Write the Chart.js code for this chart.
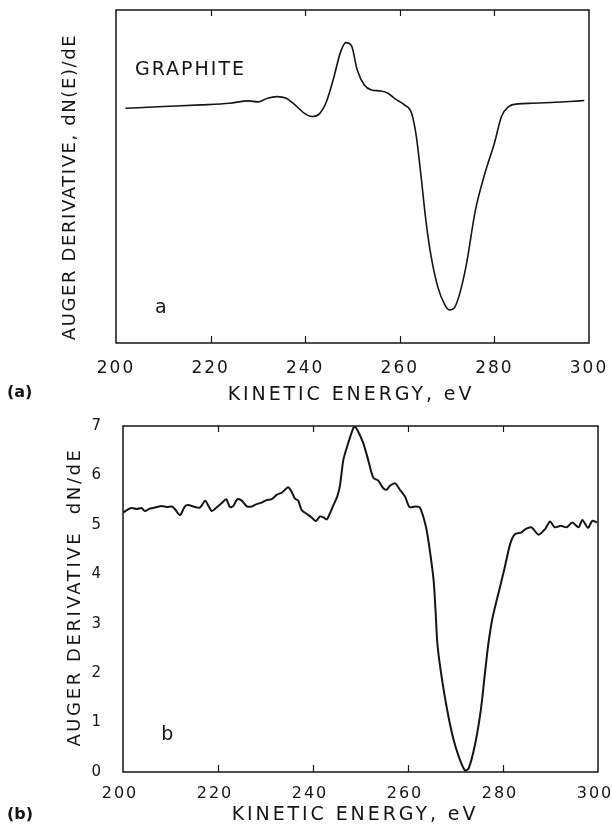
<!DOCTYPE html>
<html><head><meta charset="utf-8">
<script src="https://cdn.jsdelivr.net/npm/chart.js@4"></script>
<style>
html,body{margin:0;padding:0;background:#fff;}
#wrapA{position:absolute;left:0;top:0;width:612px;height:415px;}
#wrapB{position:absolute;left:0;top:415px;width:612px;height:416px;}
canvas{display:block;}
</style></head><body>
<div id="wrapA"><canvas id="chartA" width="612" height="415"></canvas></div>
<div id="wrapB"><canvas id="chartB" width="612" height="416"></canvas></div>
<script>
// ---- data ----
const xTickValues = [200, 220, 240, 260, 280, 300];
const bottomYTicks = [0, 1, 2, 3, 4, 5, 6, 7];

// (a) graphite, arbitrary units
const topEnergy = [202, 210, 218, 224, 228, 230, 232, 234, 236, 238, 240, 241.5, 243, 244.5, 246, 247.5, 248.6, 249.8, 251, 252.5, 254, 256, 257.5, 259, 261, 262.5, 263.5, 264.5, 265.5, 266.5, 268, 269.5, 270.5, 271.5, 272.5, 274, 276, 278, 280, 281.5, 283, 285, 288, 292, 296, 299];
const topSignal = [7.05, 7.10, 7.15, 7.20, 7.27, 7.24, 7.35, 7.40, 7.35, 7.13, 6.88, 6.80, 6.88, 7.25, 7.95, 8.75, 9.02, 8.92, 8.20, 7.75, 7.60, 7.57, 7.50, 7.33, 7.15, 6.90, 6.20, 5.00, 3.70, 2.70, 1.70, 1.15, 0.99, 1.05, 1.40, 2.30, 4.00, 5.10, 6.00, 6.80, 7.10, 7.18, 7.20, 7.22, 7.25, 7.28];

// (b) dN/dE
const bottomEnergy = [199.9, 200.8, 201.8, 202.9, 203.9, 204.6, 205.7, 207.1, 208.1, 209.2, 210.3, 210.9, 212.0, 213.0, 213.7, 215.2, 216.2, 217.3, 217.9, 218.7, 219.7, 220.8, 221.7, 222.5, 223.2, 224.1, 225.0, 226.0, 227.1, 228.1, 229.2, 230.2, 231.3, 232.4, 233.4, 234.1, 234.8, 235.5, 236.2, 236.9, 237.6, 238.7, 239.7, 240.6, 241.5, 242.2, 242.9, 243.6, 244.3, 245.1, 245.7, 246.4, 247.4, 248.5, 248.8, 249.5, 250.6, 251.6, 252.7, 253.7, 254.8, 255.5, 256.2, 257.3, 258.3, 259.4, 260.3, 261.5, 262.5, 263.8, 264.6, 265.4, 265.8, 266.2, 267.1, 268.3, 269.5, 270.8, 272.0, 272.8, 274.1, 275.3, 276.1, 276.9, 277.8, 279.0, 280.2, 281.5, 282.5, 283.9, 284.8, 286.0, 287.5, 288.9, 289.9, 290.9, 292.2, 293.4, 294.6, 295.9, 296.7, 297.9, 298.8, 299.8];
const bottomSignal = [5.24, 5.30, 5.34, 5.32, 5.34, 5.28, 5.33, 5.36, 5.38, 5.36, 5.37, 5.32, 5.20, 5.37, 5.40, 5.36, 5.35, 5.49, 5.40, 5.28, 5.35, 5.44, 5.52, 5.36, 5.38, 5.52, 5.49, 5.38, 5.37, 5.42, 5.45, 5.50, 5.52, 5.61, 5.65, 5.71, 5.76, 5.67, 5.53, 5.49, 5.30, 5.22, 5.15, 5.08, 5.17, 5.15, 5.11, 5.24, 5.40, 5.57, 5.81, 6.32, 6.65, 6.96, 6.99, 6.89, 6.65, 6.32, 5.95, 5.90, 5.74, 5.71, 5.79, 5.84, 5.71, 5.57, 5.36, 5.37, 5.35, 4.95, 4.48, 3.87, 3.26, 2.58, 1.91, 1.23, 0.69, 0.28, 0.03, 0.08, 0.55, 1.23, 1.91, 2.58, 3.12, 3.60, 4.07, 4.61, 4.81, 4.85, 4.92, 4.95, 4.80, 4.92, 5.07, 4.95, 4.98, 4.95, 5.05, 4.95, 5.10, 4.94, 5.08, 5.05];

const xTitle = 'KINETIC ENERGY, eV';
const topYTitle = 'AUGER DERIVATIVE, dN(E)/dE';
const bottomYTitle = 'AUGER DERIVATIVE  dN/dE';

const INK = '#151515';
const FONT = 'DejaVu Sans';

const framePlugin = {
  id: 'frame',
  beforeDraw(chart) { chart.ctx.letterSpacing = '2px'; },
  afterDatasetsDraw(chart, args, opts) {
    const {ctx, chartArea: a} = chart;
    const xs = chart.scales.x, ys = chart.scales.y;
    ctx.save();
    ctx.strokeStyle = INK;
    ctx.lineWidth = 1.5;
    ctx.strokeRect(a.left, a.top, a.right - a.left, a.bottom - a.top);
    ctx.lineWidth = 1.2;
    xs.ticks.forEach(t => {
      if (t.value <= xs.min || t.value >= xs.max) return;
      const px = Math.round(xs.getPixelForValue(t.value)) + 0.5;
      ctx.beginPath();
      ctx.moveTo(px, a.bottom); ctx.lineTo(px, a.bottom - 7);
      ctx.moveTo(px, a.top); ctx.lineTo(px, a.top + 6);
      ctx.stroke();
    });
    ctx.fillStyle = INK;
    ctx.textBaseline = 'middle';
    (opts.notes || []).forEach(n => {
      ctx.save();
      ctx.font = (n.bold ? 'bold ' : '') + n.size + 'px "' + FONT + '"';
      ctx.letterSpacing = (n.spacing || 0) + 'px';
      ctx.textAlign = n.align || 'left';
      const px = n.px !== undefined ? n.px : xs.getPixelForValue(n.x);
      const py = n.py !== undefined ? n.py : ys.getPixelForValue(n.y);
      ctx.translate(px, py);
      if (n.rotate) ctx.rotate(n.rotate);
      ctx.fillText(n.text, 0, 0);
      ctx.restore();
    });
    ctx.restore();
  },
  afterDraw(chart) { chart.ctx.letterSpacing = '0px'; }
};

function xBuild(s) { s.ticks = xTickValues.map(v => ({value: v})); }

new Chart(document.getElementById('chartA'), {
  type: 'line',
  data: { datasets: [{
    data: topEnergy.map((x, i) => ({x, y: topSignal[i]})),
    borderColor: INK, borderWidth: 1.6, pointRadius: 0,
    cubicInterpolationMode: 'monotone', fill: false
  }]},
  options: {
    responsive: false, animation: false, devicePixelRatio: 1,
    layout: {padding: {left: 0, right: 23, top: 10, bottom: 0}},
    plugins: {
      legend: {display: false}, tooltip: {enabled: false},
      frame: {notes: [
        {text: 'GRAPHITE', x: 204, y: 8.2, size: 19, spacing: 2},
        {text: 'a', x: 209.5, y: 1.05, size: 19, align: 'center'},
        {text: '(a)', px: 7, py: 393, size: 16, bold: true},
        {text: xTitle, px: 351, py: 395, size: 19, spacing: 2.9, align: 'center'},
        {text: topYTitle, px: 70, py: 187, size: 18, spacing: 1.6, align: 'center', rotate: -Math.PI / 2}
      ]}
    },
    scales: {
      x: {
        type: 'linear', min: 200, max: 300,
        afterBuildTicks: xBuild,
        afterFit: s => { s.height = 72; s.paddingLeft = 0; s.paddingRight = 0; },
        grid: {display: false}, border: {display: false},
        ticks: {color: INK, font: {family: FONT, size: 17}, padding: 7, maxRotation: 0, autoSkip: false},
        title: {display: false}
      },
      y: {
        min: 0, max: 10,
        afterFit: s => { s.width = 116; s.paddingTop = 0; s.paddingBottom = 0; },
        grid: {display: false}, border: {display: false},
        ticks: {display: false},
        title: {display: false}
      }
    }
  },
  plugins: [framePlugin]
});

new Chart(document.getElementById('chartB'), {
  type: 'line',
  data: { datasets: [{
    data: bottomEnergy.map((x, i) => ({x, y: bottomSignal[i]})),
    borderColor: INK, borderWidth: 2, pointRadius: 0,
    tension: 0.25, fill: false
  }]},
  options: {
    responsive: false, animation: false, devicePixelRatio: 1,
    layout: {padding: {left: 0, right: 14, top: 11, bottom: 0}},
    plugins: {
      legend: {display: false}, tooltip: {enabled: false},
      frame: {notes: [
        {text: 'b', x: 209.3, y: 0.75, size: 19, align: 'center'},
        {text: '(b)', px: 7, py: 400, size: 16, bold: true},
        {text: xTitle, px: 355, py: 400, size: 19, spacing: 2.9, align: 'center'},
        {text: bottomYTitle, px: 75, py: 182, size: 18, spacing: 2.6, align: 'center', rotate: -Math.PI / 2}
      ]}
    },
    scales: {
      x: {
        type: 'linear', min: 200, max: 300,
        afterBuildTicks: xBuild,
        afterFit: s => { s.height = 59; s.paddingLeft = 0; s.paddingRight = 0; },
        grid: {display: false}, border: {display: false},
        ticks: {color: INK, font: {family: FONT, size: 16}, padding: 4, labelOffset: -3, maxRotation: 0, autoSkip: false},
        title: {display: false}
      },
      y: {
        min: 0, max: 7,
        afterBuildTicks: s => { s.ticks = bottomYTicks.map(v => ({value: v})); },
        afterFit: s => { s.width = 123; s.paddingTop = 0; s.paddingBottom = 0; },
        grid: {display: false}, border: {display: false},
        ticks: {color: INK, font: {family: FONT, size: 15}, padding: 12},
        title: {display: false}
      }
    }
  },
  plugins: [framePlugin]
});
</script>
</body></html>
